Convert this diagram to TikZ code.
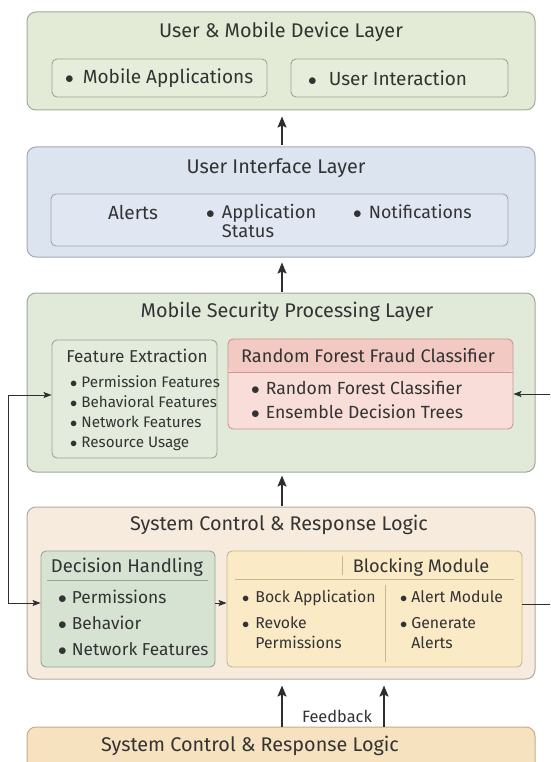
\documentclass[tikz,border=0pt]{standalone}
\usepackage{fontspec}
\setmainfont{Fira Sans}
\usetikzlibrary{arrows.meta,calc}
\newcommand\bul{$\bullet$}
\definecolor{txt}{HTML}{333333}
\definecolor{lnk}{HTML}{2E2E2E}
\definecolor{lafill}{HTML}{E3EBD6}\definecolor{laline}{HTML}{A4AA98}
\definecolor{lainf}{HTML}{E6EDDA}\definecolor{lainl}{HTML}{9EA392}
\definecolor{lbfill}{HTML}{DCE4F0}\definecolor{lbline}{HTML}{A2A9B5}
\definecolor{lbinf}{HTML}{E0E7F2}\definecolor{lbinl}{HTML}{9FA6B2}
\definecolor{lcfill}{HTML}{E1E9D9}\definecolor{lcline}{HTML}{A0A89C}
\definecolor{fefill}{HTML}{E3EBDC}\definecolor{feline}{HTML}{9CA497}
\definecolor{rfhead}{HTML}{F3C9C3}\definecolor{rfbody}{HTML}{F8DDD8}\definecolor{rfline}{HTML}{C9958F}
\definecolor{ldfill}{HTML}{F6EBDD}\definecolor{ldline}{HTML}{B3AA9E}
\definecolor{dhfill}{HTML}{D6E3D3}\definecolor{dhline}{HTML}{97A394}
\definecolor{blfill}{HTML}{FBEAC6}\definecolor{blline}{HTML}{C9B68E}
\definecolor{lefill}{HTML}{F7E2C0}\definecolor{leline}{HTML}{C4AE8A}
\begin{document}
\begin{tikzpicture}[x=1pt,y=-1pt,
  layerbox/.style={rounded corners=9pt, line width=1pt, inner sep=0pt},
  innerbox/.style={rounded corners=5pt, line width=0.9pt, inner sep=0pt},
  ttl/.style={text=txt, inner sep=0pt, font=\fontsize{19.8}{23}\selectfont},
  item/.style={text=txt, inner sep=0pt, anchor=west, font=\fontsize{19}{22}\selectfont},
  lst/.style={text=txt, inner sep=0pt, anchor=base west},
  layarrow/.style={draw=lnk, line width=1.6pt, -{Stealth[length=11pt,width=9pt,inset=2pt]}},
  looparrow/.style={draw=lnk, line width=0.9pt, -{Stealth[length=8pt,width=6pt,inset=1.5pt]}},
  plainline/.style={draw=lnk, line width=0.9pt},
  sepline/.style={line width=0.9pt}
]
\useasboundingbox (0,0) rectangle (550,762);
\fill[white] (0,0) rectangle (550,762);

% ---------- Layer 1
\node[layerbox, fill=lafill, draw=laline, minimum width=508pt, minimum height=98pt] (L1) at (281,61) {};
\node[ttl] (t1) at (281,32) {User \& Mobile Device Layer};
\node[innerbox, fill=lainf, draw=lainl, minimum width=215pt, minimum height=38pt] (B1a) at (159.5,78) {};
\node[innerbox, fill=lainf, draw=lainl, minimum width=217pt, minimum height=38pt] (B1b) at (399.5,78) {};
\node[item] (m1) at (65,78) {\bul\hspace{9pt}Mobile Applications};
\node[item] (m2) at (308,78) {\bul\hspace{12pt}User Interaction};

% ---------- Layer 2
\node[layerbox, fill=lbfill, draw=lbline, minimum width=508pt, minimum height=110pt] (L2) at (281,202) {};
\node[ttl] (t2) at (276,168) {User Interface Layer};
\node[innerbox, fill=lbinf, draw=lbinl, minimum width=457pt, minimum height=52pt] (B2) at (279.5,220) {};
\node[text=txt, inner sep=0pt, font=\fontsize{19}{22}\selectfont] (al) at (133,212) {Alerts};
\node[lst, font=\fontsize{18.3}{19}\selectfont] (ap) at (206,218)
  {\begin{tabular}[t]{@{}l@{\hspace{7pt}}l@{}}\bul&Application\\&Status\end{tabular}};
\node[lst, font=\fontsize{17.8}{19}\selectfont] (nt) at (353,218)
  {\begin{tabular}[t]{@{}l@{\hspace{7pt}}l@{}}\bul&Notifications\end{tabular}};

% ---------- Layer 3
\node[layerbox, fill=lcfill, draw=lcline, minimum width=508pt, minimum height=179pt] (L3) at (281,382.5) {};
\node[ttl] (t3) at (287,312) {Mobile Security Processing Layer};
\node[innerbox, fill=fefill, draw=feline, minimum width=165pt, minimum height=118pt] (FE) at (134.5,399) {};
\node[text=txt, inner sep=0pt, font=\fontsize{17.2}{20}\selectfont] (fet) at (137,356) {Feature Extraction};
\node[lst, font=\fontsize{15.2}{20.3}\selectfont] (fel) at (70,387)
  {\begin{tabular}[t]{@{}l@{\hspace{4pt}}l@{}}\bul&Permission Features\\\bul&Behavioral Features\\\bul&Network Features\\\bul&Resource Usage\end{tabular}};
\node[innerbox, fill=rfbody, draw=rfline, minimum width=285pt, minimum height=90pt,
  path picture={\fill[rfhead] (path picture bounding box.north west) rectangle ([yshift=-33pt]path picture bounding box.north east);}] (RF) at (370.5,384) {};
\coordinate (rfsep) at (0,372);
\draw[sepline, draw=rfline] (RF.west |- rfsep) -- (RF.east |- rfsep);
\node[text=txt, inner sep=0pt, font=\fontsize{18.2}{21}\selectfont] (rft) at (368,356) {Random Forest Fraud Classifier};
\node[lst, font=\fontsize{17.6}{24}\selectfont] (rfl) at (251,394)
  {\begin{tabular}[t]{@{}l@{\hspace{6pt}}l@{}}\bul&Random Forest Classifier\\\bul&Ensemble Decision Trees\end{tabular}};

% ---------- Layer 4
\node[layerbox, fill=ldfill, draw=ldline, minimum width=508pt, minimum height=172pt] (L4) at (281,593) {};
\node[ttl] (t4) at (279,525) {System Control \& Response Logic};
\node[innerbox, fill=dhfill, draw=dhline, minimum width=174pt, minimum height=116pt] (DH) at (128,609) {};
\node[text=txt, inner sep=0pt, font=\fontsize{18.5}{21}\selectfont] (dht) at (127,567) {Decision Handling};
\coordinate (dhs1) at (47,580); \coordinate (dhs2) at (208,580);
\draw[sepline, draw=dhline] (dhs1) -- (dhs2);
\node[lst, font=\fontsize{17.3}{26}\selectfont] (dhl) at (58,603)
  {\begin{tabular}[t]{@{}l@{\hspace{5pt}}l@{}}\bul&Permissions\\\bul&Behavior\\\bul&Network Features\end{tabular}};
\node[innerbox, fill=blfill, draw=blline, minimum width=295pt, minimum height=116pt] (BL) at (374.5,609) {};
\coordinate (blt1) at (342,556); \coordinate (blt2) at (342,575);
\draw[sepline, draw=blline] (blt1) -- (blt2);
\node[text=txt, inner sep=0pt, font=\fontsize{18.2}{21}\selectfont] (blt) at (421,567) {Blocking Module};
\coordinate (bls1) at (235,579); \coordinate (bls2) at (514,579);
\draw[sepline, draw=blline] (bls1) -- (bls2);
\coordinate (bld1) at (385,585); \coordinate (bld2) at (385,662);
\draw[sepline, draw=blline] (bld1) -- (bld2);
\node[lst, font=\fontsize{15.8}{20}\selectfont] (bll) at (242,602)
  {\begin{tabular}[t]{@{}l@{\hspace{6pt}}l@{}}\bul&Bock Application\\[6pt]\bul&Revoke\\&Permissions\end{tabular}};
\node[lst, font=\fontsize{15.8}{20}\selectfont] (blr) at (400,602)
  {\begin{tabular}[t]{@{}l@{\hspace{4pt}}l@{}}\bul&Alert Module\\[6pt]\bul&Generate\\&Alerts\end{tabular}};

% ---------- Layer 5
\node[layerbox, fill=lefill, draw=leline, minimum width=508pt, minimum height=60pt] (L5) at (281,757) {};
\node[ttl] (t5) at (250,746) {System Control \& Response Logic};

% ---------- connectors between layers
\coordinate (ax) at (282,0);
\coordinate (bx) at (384,0);
\draw[layarrow, shorten >=6pt, shorten <=1pt] (L2.north -| ax) -- (L1.south -| ax);
\draw[layarrow, shorten >=5pt, shorten <=1pt] (L3.north -| ax) -- (L2.south -| ax);
\draw[layarrow, shorten >=3pt, shorten <=1pt] (L4.north -| ax) -- (L3.south -| ax);
\draw[layarrow, shorten >=6pt] (L5.north -| ax) -- (L4.south -| ax);
\draw[layarrow, shorten >=6pt] (L5.north -| bx) -- (L4.south -| bx);
\node[text=txt, inner sep=0pt, font=\fontsize{16.4}{19}\selectfont] (fb) at (337,716) {Feedback};

% ---------- feedback loops
\coordinate (lp1) at (8,395);
\coordinate (lp2) at (8,603);
\draw[looparrow] (lp1) -- (FE.west |- lp1);
\draw[looparrow] (lp1) -- (lp2) -- (DH.west |- lp2);
\draw[looparrow] (DH.east |- lp2) -- (BL.west |- lp2);
\coordinate (rp1) at (550,394);
\coordinate (rp2) at (550,604);
\draw[looparrow] (rp1) -- (RF.east |- rp1);
\draw[plainline] (BL.east |- rp2) -- (rp2);
\end{tikzpicture}
\end{document}
